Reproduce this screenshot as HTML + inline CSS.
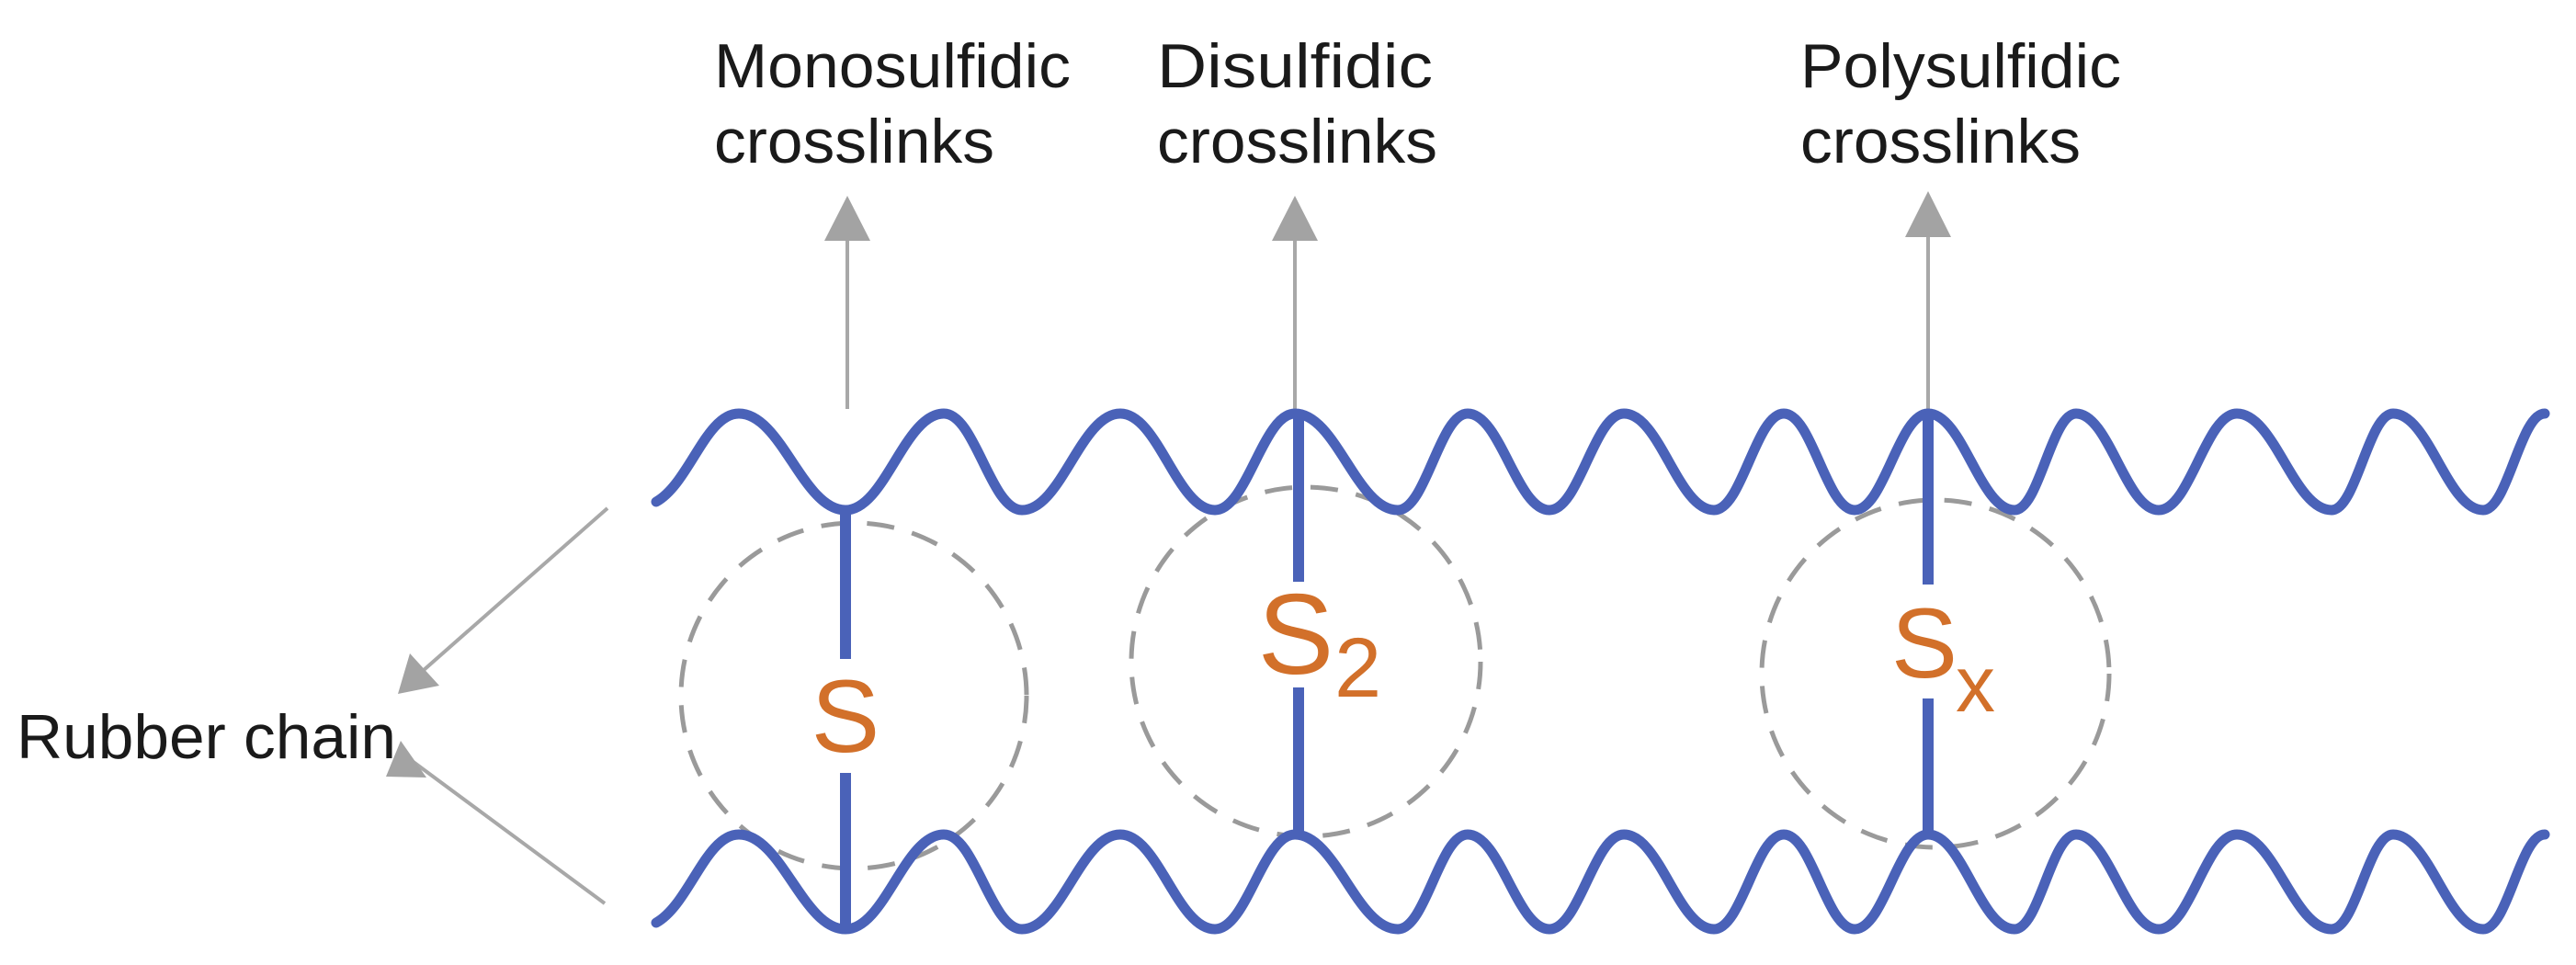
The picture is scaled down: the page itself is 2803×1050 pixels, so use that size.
<!DOCTYPE html>
<html><head><meta charset="utf-8"><style>
html,body{margin:0;padding:0;background:#fff;}
svg{display:block;}
text{font-family:"Liberation Sans",Arial,sans-serif;}
</style></head><body>
<svg id="s" width="2803" height="1050" viewBox="0 0 2803 1050" xmlns="http://www.w3.org/2000/svg">
<defs>
<marker id="ah" viewBox="0 0 10 10" refX="9" refY="5" markerWidth="10" markerHeight="10" markerUnits="userSpaceOnUse" orient="auto"><path d="M0,0 L10,5 L0,10 z" fill="#a3a3a3"/></marker>
</defs>
<!-- dashed circles -->
<g fill="none" stroke="#9a9a9a" stroke-width="5" stroke-dasharray="30 20">
<circle cx="929" cy="757" r="188"/>
<circle cx="1421" cy="720" r="190"/>
<circle cx="2106" cy="733" r="189"/>
</g>
<!-- gray arrows -->
<g stroke="#a8a8a8" stroke-width="4" fill="#a3a3a3">
<line x1="922" y1="445" x2="922" y2="258"/><polygon points="922,213 897,262 947,262" stroke="none"/>
<line x1="1409" y1="449" x2="1409" y2="258"/><polygon points="1409,213 1384,262 1434,262" stroke="none"/>
<line x1="2098" y1="449" x2="2098" y2="255"/><polygon points="2098,208 2073,258 2123,258" stroke="none"/>
<line x1="661" y1="553" x2="460" y2="730"/><polygon points="433,755 446,711 478,746" stroke="none"/>
<line x1="658" y1="983" x2="447" y2="827"/><polygon points="420,845 464,846 436,806" stroke="none"/>
</g>
<g id="waves" fill="none" stroke="#4a62b8" stroke-width="11" stroke-linecap="round"></g>
<!-- crosslinks -->
<g stroke="#4a62b8" stroke-width="12">
<line x1="920" y1="553" x2="920" y2="717"/><line x1="920" y1="841" x2="920" y2="1011"/>
<line x1="1413" y1="449" x2="1413" y2="633"/><line x1="1413" y1="748" x2="1413" y2="908"/>
<line x1="2098" y1="449" x2="2098" y2="636"/><line x1="2098" y1="760" x2="2098" y2="908"/>
</g>
<g fill="#d2702a">
<text x="920" y="818" font-size="112" text-anchor="middle">S</text>
<text x="1410" y="733" font-size="124" text-anchor="middle">S</text>
<text x="1452" y="758" font-size="92">2</text>
<text x="2094" y="737" font-size="108" text-anchor="middle">S</text>
<text x="2128" y="774" font-size="86">x</text>
</g>
<g fill="#1a1a1a" font-size="68">
<text x="777" y="95" textLength="388" lengthAdjust="spacingAndGlyphs">Monosulfidic</text>
<text x="777" y="177" textLength="305" lengthAdjust="spacingAndGlyphs">crosslinks</text>
<text x="1259" y="95" textLength="300" lengthAdjust="spacingAndGlyphs">Disulfidic</text>
<text x="1259" y="177" textLength="305" lengthAdjust="spacingAndGlyphs">crosslinks</text>
<text x="1959" y="95" textLength="349" lengthAdjust="spacingAndGlyphs">Polysulfidic</text>
<text x="1959" y="177" textLength="305" lengthAdjust="spacingAndGlyphs">crosslinks</text>
<text x="18" y="825" textLength="413" lengthAdjust="spacingAndGlyphs">Rubber chain</text>
</g>
</svg>
<script>
(function(){
var xs=[714,804,920,1027,1112,1219,1322,1409,1521,1597,1686,1767,1865,1941,2018,2098,2192,2259,2349,2434,2537,2604,2702,2769];
function mk(P,T){
  var ys=[P+96];
  for(var i=1;i<xs.length;i++){ys.push(i%2===1?P:T);}
  var d="M"+xs[0]+","+ys[0];
  for(var i=1;i<xs.length;i++){
    var dx=(xs[i]-xs[i-1])*0.4;
    var c1y=(i===1)?ys[0]-20:ys[i-1];
    d+=" C"+(xs[i-1]+dx)+","+c1y+" "+(xs[i]-dx)+","+ys[i]+" "+xs[i]+","+ys[i];
  }
  return d;
}
var g=document.getElementById('waves');
[[450,555],[908,1011]].forEach(function(p){
  var e=document.createElementNS('http://www.w3.org/2000/svg','path');
  e.setAttribute('d',mk(p[0],p[1]));g.appendChild(e);
});
})();
</script>
</body></html>
